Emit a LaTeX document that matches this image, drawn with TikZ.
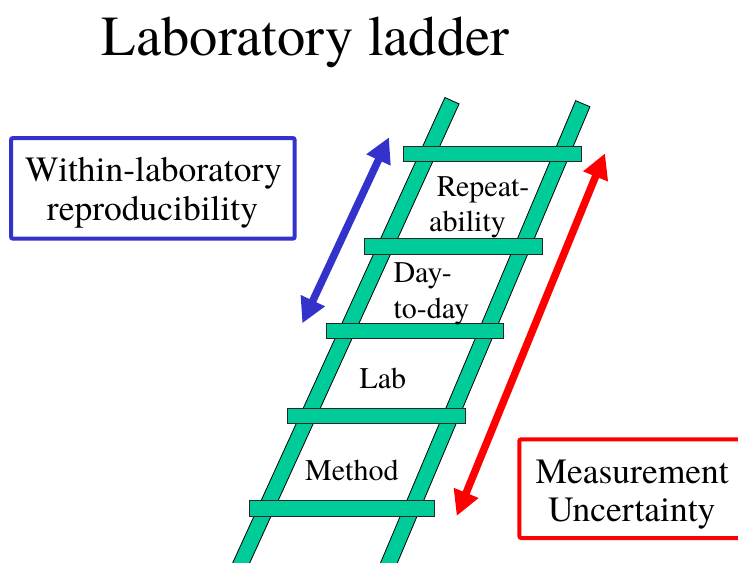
\documentclass[tikz,border=0pt]{standalone}
\usepackage{fontspec}
\setmainfont{TeX Gyre Termes}
\usetikzlibrary{calc,arrows.meta}
\definecolor{laddergreen}{RGB}{0,204,153}
\definecolor{boxblue}{RGB}{51,51,204}
\definecolor{boxred}{RGB}{255,0,0}
\tikzset{
  railpart/.style={fill=laddergreen,draw=black,line width=0.8pt,line join=miter},
  rungpart/.style={fill=laddergreen,draw=black!85,line width=0.9pt},
  laddertext/.style={inner sep=0pt,anchor=base west,font=\fontsize{30}{32}\selectfont},
  boxtext/.style={inner sep=0pt,anchor=base,font=\fontsize{35.5}{38}\selectfont},
  titletext/.style={inner sep=0pt,anchor=base west,font=\fontsize{56.5}{60}\selectfont},
  framebox/.style={line width=4pt,rounded corners=2pt},
  dblarrow/.style={line width=7.5pt,{Triangle[length=25pt,width=25pt]}-{Triangle[length=25pt,width=25pt]}}
}
\begin{document}
\begin{tikzpicture}[x=1pt,y=-1pt]
\useasboundingbox (0,0) rectangle (738,562);
\clip (0,0) rectangle (738,562);
\fill[white] (0,0) rectangle (738,562);
% title
\node[titletext] (title) at (101.7,55) {Laboratory ladder};
% rails
\coordinate (LA) at (452,100.7);
\coordinate (LB) at (233.4,580);
\coordinate (RA) at (582.8,103.7);
\coordinate (RB) at (381.7,580);
\draw[railpart] ($(LA)!7.75pt!90:(LB)$) -- ($(LA)!7.75pt!-90:(LB)$) -- ($(LB)!7.75pt!90:(LA)$) -- ($(LB)!7.75pt!-90:(LA)$) -- cycle;
\draw[railpart] ($(RA)!7.75pt!90:(RB)$) -- ($(RA)!7.75pt!-90:(RB)$) -- ($(RB)!7.75pt!90:(RA)$) -- ($(RB)!7.75pt!-90:(RA)$) -- cycle;
% rungs
\draw[rungpart] (403.3,146) rectangle (581,161.3);
\draw[rungpart] (364.3,238.3) rectangle (542.7,254);
\draw[rungpart] (326,323.3) rectangle (503.3,338.7);
\draw[rungpart] (287.3,408.3) rectangle (465,423.3);
\draw[rungpart] (249,500.7) rectangle (434.3,516);
% ladder labels
\node[laddertext] (rep1) at (436.7,196) {Repeat-};
\node[laddertext] (rep2) at (429,231.7) {ability};
\node[laddertext] (day1) at (393.3,282.7) {Day-};
\node[laddertext] (day2) at (393.3,318.3) {to-day};
\node[laddertext] (lab) at (359.3,388.3) {Lab};
\node[laddertext] (method) at (305,480) {Method};
% blue box
\draw[framebox,draw=boxblue] (11,138) rectangle (294.7,238.7);
\node[boxtext] (wl1) at (153.5,181.7) {Within-laboratory};
\node[boxtext] (wl2) at (152.5,220) {reproducibility};
% red box
\draw[framebox,draw=boxred] (519.3,439.3) rectangle (750,538);
\node[boxtext] (mu1) at (632.2,483.3) {Measurement};
\node[boxtext] (mu2) at (631.7,521.7) {Uncertainty};
% arrows
\coordinate (blueLow) at (302.3,323.3);
\coordinate (blueHigh) at (389,137.3);
\coordinate (redLow) at (456.7,516);
\coordinate (redHigh) at (605,153.3);
\draw[dblarrow,draw=boxblue,fill=boxblue] (blueLow) -- (blueHigh);
\draw[dblarrow,draw=boxred,fill=boxred] (redLow) -- (redHigh);
\end{tikzpicture}
\end{document}
